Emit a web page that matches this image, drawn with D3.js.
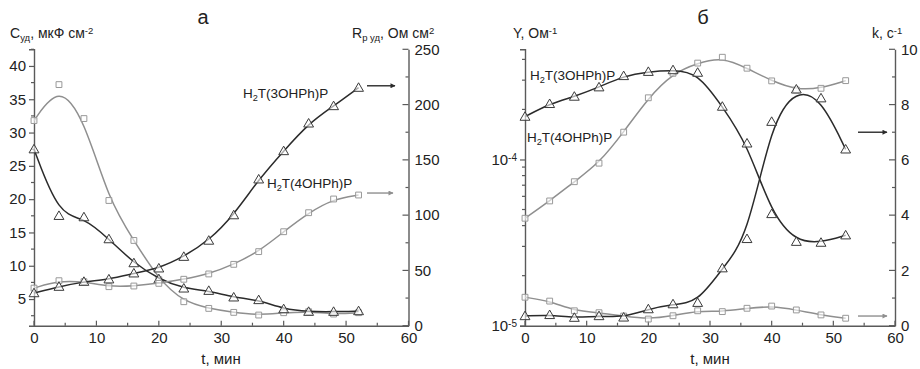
<!DOCTYPE html>
<html>
<head>
<meta charset="utf-8">
<script src="https://cdn.jsdelivr.net/npm/d3@7/dist/d3.min.js"></script>
<style>
  body { margin: 0; background: #fff; }
  text { font-family: "Liberation Sans", Arial, sans-serif; fill: #222; }
</style>
</head>
<body>
<div id="chart"></div>
<script>
// time points, min
var t = [0, 4, 8, 12, 16, 20, 24, 28, 32, 36, 40, 44, 48, 52];

// panel a: specific capacitance (left axis), uF cm-2
var c3 = [27.5, 17.5, 17.3, 14.0, 10.4, 8.0, 6.6, 6.25, 5.26, 4.86, 3.5, 3.1, 3.1, 3.2];
var c4 = [31.8, 37.2, 32.1, 19.8, 13.8, 7.9, 4.6, 3.6, 3.0, 2.6, 2.95, 3.1, 2.75, 2.95];
// panel a: polarisation resistance (right axis), Ohm cm2
var r3 = [29.5, 35.3, 39.8, 42, 47.4, 51.9, 62.4, 77, 100, 132.4, 158, 183, 198.7, 215.3];
var r4 = [34, 40.7, 39.8, 35.3, 35.9, 38.3, 42, 46.8, 55.5, 67, 85, 102.2, 114.6, 118.2];

// panel b: admittance Y (left, log), Ohm-1
var y3 = [1.81e-4, 2.16e-4, 2.39e-4, 2.72e-4, 3.18e-4, 3.37e-4, 3.45e-4, 3.33e-4, 2.08e-4, 1.25e-4, 4.7e-5, 3.2e-5, 3.16e-5, 3.5e-5];
var y4 = [4.43e-5, 5.63e-5, 7.35e-5, 9.5e-5, 1.46e-4, 2.35e-4, 3.3e-4, 3.8e-4, 4.12e-4, 3.54e-4, 2.97e-4, 2.62e-4, 2.68e-4, 2.98e-4];
// panel b: k (right axis), s-1
var k3 = [0.35, 0.39, 0.29, 0.35, 0.3, 0.6, 0.78, 0.83, 2.08, 3.14, 7.38, 8.55, 8.23, 6.38];
var k4 = [1.03, 0.89, 0.54, 0.47, 0.35, 0.24, 0.36, 0.54, 0.51, 0.63, 0.71, 0.57, 0.39, 0.27];

var xTicks = [0, 10, 20, 30, 40, 50, 60];
var cTicks = [5, 10, 15, 20, 25, 30, 35, 40];
var rTicks = [0, 50, 100, 150, 200, 250];
var kTicks = [0, 2, 4, 6, 8, 10];

var W = 920, H = 369;
var plotTop = 49.3, plotBottom = 325.7;
var dark = "#2b2b2b", grey = "#8f8f8f", axisCol = "#5a5a5a";

var svg = d3.select("#chart").append("svg")
  .attr("width", W).attr("height", H);

var defs = svg.append("defs");
[["arrDark", dark], ["arrGrey", grey]].forEach(function(a) {
  defs.append("marker")
    .attr("id", a[0]).attr("viewBox", "0 0 10 10")
    .attr("refX", 9).attr("refY", 5)
    .attr("markerWidth", 8).attr("markerHeight", 5)
    .attr("markerUnits", "userSpaceOnUse")
    .attr("orient", "auto")
    .append("path").attr("d", "M0,0 L10,5 L0,10 z").attr("fill", a[1]);
});

function styleAxis(g) {
  g.select(".domain").attr("stroke", axisCol).attr("stroke-width", 1.4);
  g.selectAll(".tick line").attr("stroke", axisCol).attr("stroke-width", 1.2);
  g.selectAll(".tick text").style("font-size", "15px").attr("fill", "#222");
}

function minorTicks(g, vals, scale, orient, len) {
  g.selectAll(null).data(vals).enter().append("line")
    .each(function(v) {
      var p = scale(v), s = d3.select(this);
      if (orient === "left") s.attr("x1", 0).attr("x2", -len).attr("y1", p).attr("y2", p);
      if (orient === "in-right") s.attr("x1", 0).attr("x2", -len).attr("y1", p).attr("y2", p);
      if (orient === "in-bottom") s.attr("x1", p).attr("x2", p).attr("y1", 0).attr("y2", -len);
    })
    .attr("stroke", axisCol).attr("stroke-width", 1.2);
}

function xAxis(x) {
  var g = svg.append("g").attr("transform", "translate(0," + plotBottom + ")")
    .call(d3.axisBottom(x).tickValues(xTicks).tickSize(0).tickPadding(7));
  g.selectAll(".tick line").remove();
  // ticks point inward
  minorTicks(g, xTicks, x, "in-bottom", 5);
  minorTicks(g, [5, 15, 25, 35, 45, 55], x, "in-bottom", 3);
  styleAxis(g);
  return g;
}

function rightAxis(x0, scale, ticks, minors) {
  var g = svg.append("g").attr("transform", "translate(" + x0 + ",0)")
    .call(d3.axisRight(scale).tickValues(ticks).tickSize(0).tickPadding(6));
  minorTicks(g, ticks, scale, "in-right", 6);
  minorTicks(g, minors, scale, "in-right", 3);
  styleAxis(g);
  return g;
}

function series(x, y, xs, ys, col, shape) {
  var pts = xs.map(function(d, i) { return [x(d), y(ys[i])]; });
  svg.append("path")
    .attr("d", d3.line().curve(d3.curveBasis)(pts))
    .attr("fill", "none").attr("stroke", col).attr("stroke-width", 1.5);
  var sym = d3.symbol().type(shape === "tri" ? d3.symbolTriangle : d3.symbolSquare)
    .size(shape === "tri" ? 42 : 34);
  svg.append("g").selectAll("path").data(pts).enter().append("path")
    .attr("d", sym)
    .attr("transform", function(p) { return "translate(" + p[0] + "," + (p[1] + (shape === "tri" ? 0.8 : 0)) + ")"; })
    .attr("fill", "#fff").attr("fill-opacity", 0.6)
    .attr("stroke", shape === "tri" ? "#3a3a3a" : "#999").attr("stroke-width", 1);
}

function label(x, y, parts, size, anchor) {
  var txt = svg.append("text").attr("x", x).attr("y", y)
    .style("font-size", size + "px").attr("text-anchor", anchor || "start");
  parts.forEach(function(p) {
    var ts = txt.append("tspan").text(p[0]);
    if (p[1] === "sub") ts.attr("baseline-shift", "-30%").style("font-size", (size * 0.68) + "px");
    if (p[1] === "sup") ts.attr("baseline-shift", "45%").style("font-size", (size * 0.68) + "px");
  });
  return txt;
}

function arrow(x1, x2, y, id, col) {
  svg.append("line").attr("x1", x1).attr("x2", x2).attr("y1", y).attr("y2", y)
    .attr("stroke", col).attr("stroke-width", 1.4).attr("marker-end", "url(#" + id + ")");
}

// ---------- panel a ----------
var xa = d3.scaleLinear().domain([0, 60]).range([34, 408.5]);
var yc = d3.scaleLinear().domain([1, 42.5]).range([plotBottom, plotTop]);
var yr = d3.scaleLinear().domain([0, 250]).range([plotBottom, plotTop]);

xAxis(xa);
var gl = svg.append("g").attr("transform", "translate(34,0)")
  .call(d3.axisLeft(yc).tickValues(cTicks).tickSize(5).tickPadding(3));
minorTicks(gl, [2.5, 7.5, 12.5, 17.5, 22.5, 27.5, 32.5, 37.5, 42.5], yc, "left", 3);
styleAxis(gl);
rightAxis(408.5, yr, rTicks, [25, 75, 125, 175, 225]);

series(xa, yc, t, c4, grey, "sq");
series(xa, yc, t, c3, dark, "tri");
series(xa, yr, t, r4, grey, "sq");
series(xa, yr, t, r3, dark, "tri");

label(203, 24, [["а"]], 20, "middle");
label(10, 38, [["C"], ["уд", "sub"], [", мкФ см"], ["-2", "sup"]], 14);
label(352, 38, [["R"], ["р уд", "sub"], [", Ом см"], ["2", "sup"]], 14);
label(243, 98, [["H"], ["2", "sub"], ["T(3OHPh)P"]], 13.5);
label(267, 188, [["H"], ["2", "sub"], ["T(4OHPh)P"]], 13.5);
arrow(367, 395, yr(217), "arrDark", dark);
arrow(367, 393, yr(120), "arrGrey", grey);
label(221, 364, [["t, мин"]], 15, "middle");

// ---------- panel b ----------
var xb = d3.scaleLinear().domain([0, 60]).range([525, 895]);
var yy = d3.scaleLog().domain([1e-5, 4.6e-4]).range([plotBottom, plotTop]);
var yk = d3.scaleLinear().domain([0, 10]).range([plotBottom, plotTop]);

xAxis(xb);
var gy = svg.append("g").attr("transform", "translate(525,0)")
  .call(d3.axisLeft(yy).tickValues([1e-5, 1e-4]).tickSize(5).tickPadding(3).tickFormat(function() { return ""; }));
gy.selectAll(".tick").each(function(d) {
  var tx = d3.select(this).select("text").text("10");
  tx.append("tspan").attr("baseline-shift", "45%").style("font-size", "10px")
    .text(d < 5e-5 ? "-5" : "-4");
});
minorTicks(gy, [2e-5, 3e-5, 4e-5, 5e-5, 6e-5, 7e-5, 8e-5, 9e-5, 2e-4, 3e-4, 4e-4], yy, "left", 3);
styleAxis(gy);
rightAxis(895, yk, kTicks, [1, 3, 5, 7, 9]);

series(xb, yy, t, y4, grey, "sq");
series(xb, yy, t, y3, dark, "tri");
series(xb, yk, t, k4, grey, "sq");
series(xb, yk, t, k3, dark, "tri");

label(703, 24, [["б"]], 20, "middle");
label(513, 38, [["Y, Ом"], ["-1", "sup"]], 14);
label(872, 38, [["k, с"], ["-1", "sup"]], 14);
label(530, 80, [["H"], ["2", "sub"], ["T(3OHPh)P"]], 13.5);
label(527, 142, [["H"], ["2", "sub"], ["T(4OHPh)P"]], 13.5);
arrow(858, 887, yk(7), "arrDark", dark);
arrow(858, 887, yk(0.35), "arrGrey", grey);
label(710, 364, [["t, мин"]], 15, "middle");
</script>
</body>
</html>
